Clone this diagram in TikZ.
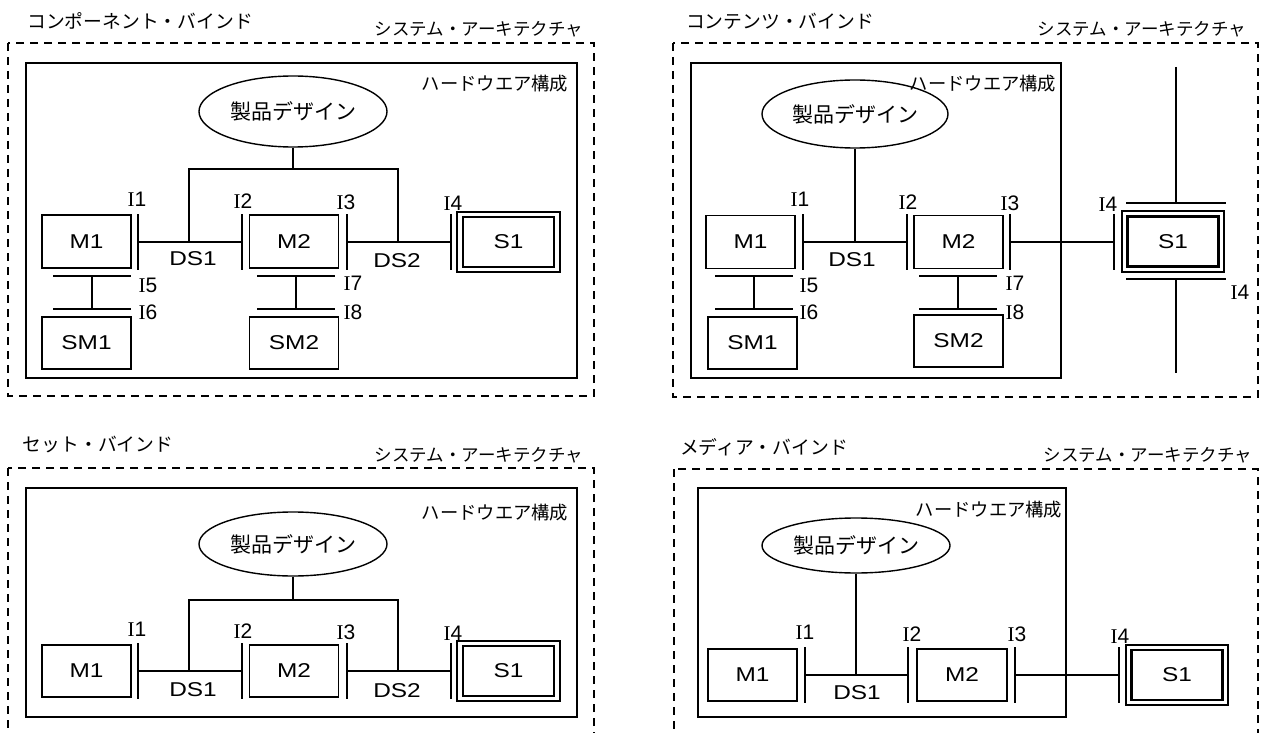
\documentclass[tikz,border=0pt]{standalone}
\usepackage{fontspec}
\usepackage{graphicx}
\usetikzlibrary{shapes.geometric}
\newfontfamily\jp{Noto Sans CJK JP}
\newfontfamily\lat{Liberation Sans}
\newfontfamily\ser{Liberation Serif}
\newcommand\fs[1]{\fontsize{#1}{#1}\selectfont}
\newcommand\sx[1]{\scalebox{1.22}[1]{#1}}
\newcommand\Il[1]{{\ser I}#1}
\tikzset{
  dbox/.style={draw, line width=1.6pt, dash pattern=on 8pt off 6pt},
  hwbox/.style={draw, line width=1.8pt},
  modbox/.style={draw, line width=1.6pt, minimum width=89pt, minimum height=53pt, inner sep=0pt, font=\lat\fs{20}},
  ell/.style={draw, ellipse, line width=1.4pt, inner sep=0pt, font=\jp\fs{21}},
  conn/.style={line width=1.4pt},
  barl/.style={line width=1.6pt},
  ilab/.style={inner sep=0pt, font=\lat\fs{21}},
  dslab/.style={inner sep=0pt, font=\lat\fs{20}},
  ttl/.style={inner sep=0pt, font=\jp\fs{18.8}},
  syslab/.style={inner sep=0pt, font=\jp\fs{17.5}},
  hwlab/.style={inner sep=0pt, font=\jp\fs{18.3}},
  souter/.style={draw, line width=2pt, minimum width=103pt, minimum height=60pt, inner sep=0pt},
  sinner/.style={draw, line width=2.5pt, minimum width=91pt, minimum height=50pt, inner sep=0pt, font=\lat\fs{20}},
}
\begin{document}
\begin{tikzpicture}[x=1pt,y=-1pt]
\useasboundingbox (0,0) rectangle (1264,733);
\clip (0,0) rectangle (1264,733);
\fill[white] (0,0) rectangle (1264,733);

% ================= Top-left: component bind =================
\node[ttl] (t1) at (140,21) {コンポーネント・バインド};
\node[syslab] (y1) at (479,29) {システム・アーキテクチャ};
\draw[dbox] (8,43) rectangle (594,396);
\draw[hwbox] (26,63) rectangle (577,378);
\node[hwlab] (h1) at (495,84) {ハードウエア構成};
\node[ell, minimum width=188pt, minimum height=71pt] (e1) at (293,111.5) {製品デザイン};
\node[modbox] (a1) at (86.5,241.5) {\sx{M1}};
\node[modbox] (a2) at (294,241.5) {\sx{M2}};
\node[modbox, minimum height=52pt] (a3) at (86.5,343) {\sx{SM1}};
\node[modbox, minimum height=52pt] (a4) at (294,343) {\sx{SM2}};
\node[souter] (a5o) at (508.5,242) {};
\node[sinner] (a5) at (508.5,242) {\sx{S1}};
\coordinate (ap1) at (138,242); \coordinate (ap2) at (242,242);
\coordinate (ap3) at (347,242); \coordinate (ap4) at (451,242);
\foreach \c in {ap1,ap2,ap3,ap4} \draw[barl] ([yshift=28pt]\c) -- ([yshift=-28pt]\c);
\draw[conn] (ap1) -- (ap2);
\draw[conn] (ap3) -- (ap4);
\coordinate (ak) at (293,169); \coordinate (aj1) at (189,242); \coordinate (aj2) at (398,242);
\draw[conn] (e1.south) -- (ak);
\draw[conn] (aj1) |- (ak) -| (aj2);
\coordinate (aq5) at (92,276); \coordinate (aq6) at (92,309);
\coordinate (aq7) at (296,276); \coordinate (aq8) at (296,309);
\foreach \c in {aq5,aq6,aq7,aq8} \draw[barl] ([xshift=-39pt]\c) -- ([xshift=39pt]\c);
\draw[conn] (aq5) -- (aq6);
\draw[conn] (aq7) -- (aq8);
\node[ilab] (al1) at (137,199) {\Il{1}};
\node[ilab] (al2) at (243,201) {\Il{2}};
\node[ilab] (al3) at (346,202) {\Il{3}};
\node[ilab] (al4) at (453,203) {\Il{4}};
\node[ilab] (al5) at (148,285) {\Il{5}};
\node[ilab] (al6) at (148,312) {\Il{6}};
\node[ilab] (al7) at (353,283) {\Il{7}};
\node[ilab] (al8) at (353,312) {\Il{8}};
\node[dslab] (ad1) at (193,259) {\sx{DS1}};
\node[dslab] (ad2) at (397,261) {\sx{DS2}};

% ================= Top-right: contents bind =================
\node[ttl] (t2) at (780,21) {コンテンツ・バインド};
\node[syslab] (y2) at (1142,29) {システム・アーキテクチャ};
\draw[dbox] (673,43) rectangle (1258,397);
\draw[hwbox] (691,63) rectangle (1061,378);
\node[hwlab] (h2) at (983,84) {ハードウエア構成};
\node[ell, minimum width=186pt, minimum height=68pt] (e2) at (855,114) {製品デザイン};
\node[modbox] (b1) at (750.5,242) {\sx{M1}};
\node[modbox] (b2) at (958.5,242) {\sx{M2}};
\node[modbox, minimum height=52pt] (b3) at (752.5,343) {\sx{SM1}};
\node[modbox, minimum height=52pt] (b4) at (958.5,341) {\sx{SM2}};
\node[souter, minimum width=102pt, minimum height=61pt] (b5o) at (1173,241.5) {};
\node[sinner] (b5) at (1173,241.5) {\sx{S1}};
\coordinate (bp1) at (803,242); \coordinate (bp2) at (907,242);
\coordinate (bp3) at (1010,242); \coordinate (bp4) at (1114,242);
\foreach \c in {bp1,bp2,bp3,bp4} \draw[barl] ([yshift=28pt]\c) -- ([yshift=-28pt]\c);
\draw[conn] (bp1) -- (bp2);
\draw[conn] (bp3) -- (bp4);
\coordinate (bj) at (855,242);
\draw[conn] (e2.south) -- (bj);
\coordinate (bq5) at (754,276); \coordinate (bq6) at (754,309);
\coordinate (bq7) at (958,276); \coordinate (bq8) at (958,309);
\foreach \c in {bq5,bq6,bq7,bq8} \draw[barl] ([xshift=-39pt]\c) -- ([xshift=39pt]\c);
\draw[conn] (bq5) -- (bq6);
\draw[conn] (bq7) -- (bq8);
\coordinate (btb) at (1176,203); \coordinate (bbb) at (1176,279);
\foreach \c in {btb,bbb} \draw[barl] ([xshift=-50pt]\c) -- ([xshift=50pt]\c);
\coordinate (bvt) at (1176,67); \coordinate (bvb) at (1176,373);
\draw[conn] (bvt) -- (btb);
\draw[conn] (bbb) -- (bvb);
\node[ilab] (bl1) at (800,199) {\Il{1}};
\node[ilab] (bl2) at (908,202) {\Il{2}};
\node[ilab] (bl3) at (1010,203) {\Il{3}};
\node[ilab] (bl4) at (1108,204) {\Il{4}};
\node[ilab] (bl4b) at (1240,292) {\Il{4}};
\node[ilab] (bl5) at (809,285) {\Il{5}};
\node[ilab] (bl6) at (809,312) {\Il{6}};
\node[ilab] (bl7) at (1015,283) {\Il{7}};
\node[ilab] (bl8) at (1015,312) {\Il{8}};
\node[dslab] (bd1) at (852,260) {\sx{DS1}};

% ================= Bottom-left: set bind =================
\node[ttl] (t3) at (98,445) {セット・バインド};
\node[syslab] (y3) at (479,455) {システム・アーキテクチャ};
\draw[dbox] (8,468) rectangle (594,780);
\draw[hwbox] (26,488) rectangle (577,717);
\node[hwlab] (h3) at (495,513) {ハードウエア構成};
\node[ell, minimum width=188pt, minimum height=64pt] (e3) at (293,544) {製品デザイン};
\node[modbox, minimum height=52pt] (c1) at (86.5,671) {\sx{M1}};
\node[modbox, minimum height=52pt] (c2) at (294,671) {\sx{M2}};
\node[souter] (c5o) at (508.5,671) {};
\node[sinner] (c5) at (508.5,671) {\sx{S1}};
\coordinate (cp1) at (138,671); \coordinate (cp2) at (242,671);
\coordinate (cp3) at (347,671); \coordinate (cp4) at (451,671);
\foreach \c in {cp1,cp2,cp3,cp4} \draw[barl] ([yshift=28pt]\c) -- ([yshift=-28pt]\c);
\draw[conn] (cp1) -- (cp2);
\draw[conn] (cp3) -- (cp4);
\coordinate (ck) at (293,600); \coordinate (cj1) at (189,671); \coordinate (cj2) at (398,671);
\draw[conn] (e3.south) -- (ck);
\draw[conn] (cj1) |- (ck) -| (cj2);
\node[ilab] (cl1) at (137,629) {\Il{1}};
\node[ilab] (cl2) at (243,631) {\Il{2}};
\node[ilab] (cl3) at (346,632) {\Il{3}};
\node[ilab] (cl4) at (453,633) {\Il{4}};
\node[dslab] (cd1) at (193,690) {\sx{DS1}};
\node[dslab] (cd2) at (397,691) {\sx{DS2}};

% ================= Bottom-right: media bind =================
\node[ttl] (t4) at (764,447) {メディア・バインド};
\node[syslab] (y4) at (1148,455) {システム・アーキテクチャ};
\draw[dbox] (674,469) rectangle (1258,780);
\draw[hwbox] (698,488) rectangle (1066,717);
\node[hwlab] (h4) at (989,510) {ハードウエア構成};
\node[ell, minimum width=188pt, minimum height=55pt] (e4) at (856,545.5) {製品デザイン};
\node[modbox, minimum height=52pt] (d1) at (752.5,675) {\sx{M1}};
\node[modbox, minimum height=52pt, minimum width=90pt] (d2) at (962,675) {\sx{M2}};
\node[souter, minimum width=102pt] (d5o) at (1177,675) {};
\node[sinner] (d5) at (1177,675) {\sx{S1}};
\coordinate (dp1) at (805,675); \coordinate (dp2) at (908,675);
\coordinate (dp3) at (1015,675); \coordinate (dp4) at (1119,675);
\foreach \c in {dp1,dp2,dp3,dp4} \draw[barl] ([yshift=28pt]\c) -- ([yshift=-28pt]\c);
\draw[conn] (dp1) -- (dp2);
\draw[conn] (dp3) -- (dp4);
\coordinate (dj) at (856,675);
\draw[conn] (e4.south) -- (dj);
\node[ilab] (dl1) at (805,632) {\Il{1}};
\node[ilab] (dl2) at (912,634) {\Il{2}};
\node[ilab] (dl3) at (1017,634) {\Il{3}};
\node[ilab] (dl4) at (1120,636) {\Il{4}};
\node[dslab] (dd1) at (857,693) {\sx{DS1}};
\end{tikzpicture}
\end{document}
